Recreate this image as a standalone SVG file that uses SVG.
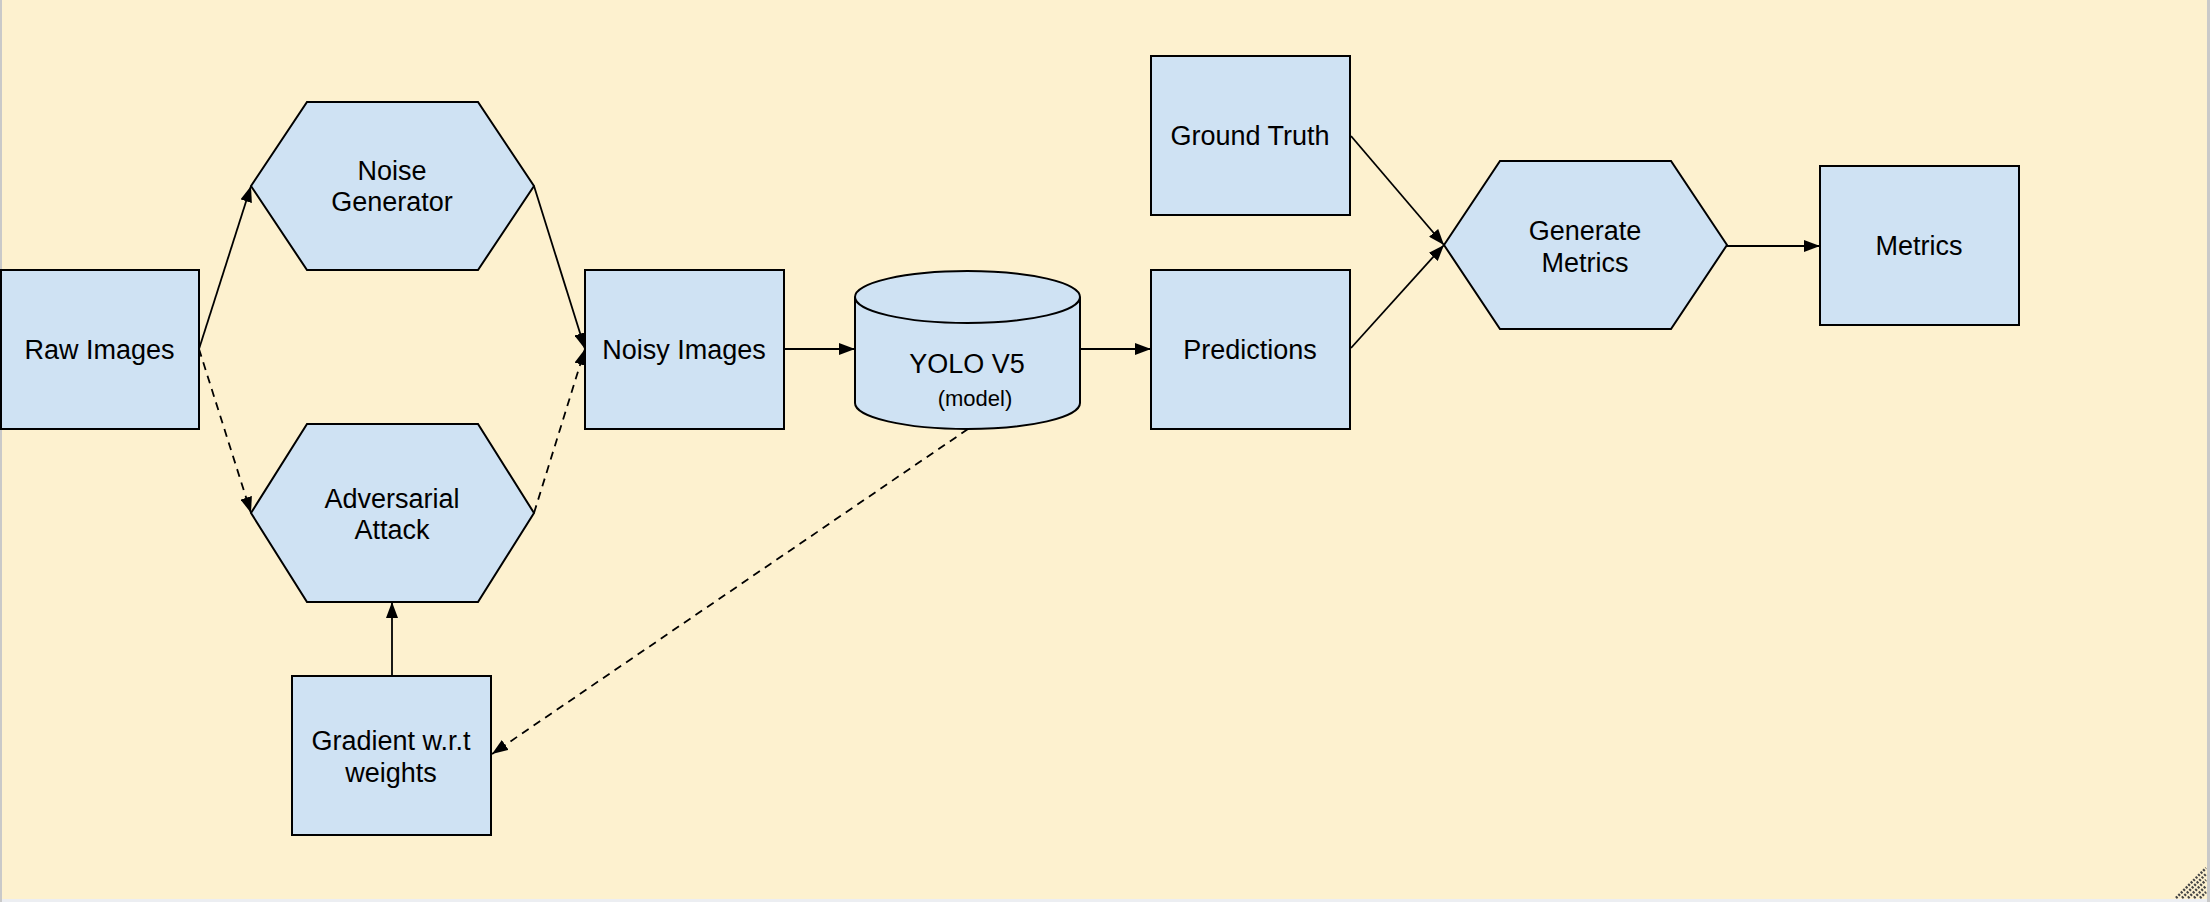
<svg xmlns="http://www.w3.org/2000/svg" width="2210" height="902" viewBox="0 0 2210 902">
<style>
.node{fill:#cfe2f3;stroke:#000;stroke-width:2}
.lbl{font-family:"Liberation Sans",Arial,sans-serif;font-size:27px;fill:#000;text-anchor:middle}
.small{font-size:22px}
.edge{fill:none;stroke:#000;stroke-width:1.8}
.dash{stroke-dasharray:8,6}
.grip{stroke:#444;stroke-width:2.5;stroke-dasharray:2,1.5}
</style>
<defs>
<marker id="arr" markerUnits="userSpaceOnUse" markerWidth="16" markerHeight="12" refX="16" refY="6" orient="auto">
<path d="M0,0 L16,6 L0,12 z" fill="#000"/>
</marker>
</defs>
<rect x="0" y="0" width="2210" height="902" fill="#fdf1cf"/>
<rect x="0" y="899" width="2210" height="3" fill="#eceef2"/>
<rect x="0" y="0" width="2" height="902" fill="#c9c9c9"/>
<rect x="2207" y="0" width="3" height="902" fill="#c9c9c9"/>
<g id="grip">
<line class="grip" x1="2176" y1="898" x2="2206" y2="868"/>
<line class="grip" x1="2182" y1="898" x2="2206" y2="874"/>
<line class="grip" x1="2188" y1="898" x2="2206" y2="880"/>
<line class="grip" x1="2194" y1="898" x2="2206" y2="886"/>
<line class="grip" x1="2200" y1="898" x2="2206" y2="892"/>
</g>
<g id="connectors">
<line class="edge" x1="199" y1="349" x2="251" y2="186" marker-end="url(#arr)"/>
<line class="edge dash" x1="199" y1="349" x2="251" y2="513" marker-end="url(#arr)"/>
<line class="edge" x1="534" y1="186" x2="585" y2="349" marker-end="url(#arr)"/>
<line class="edge dash" x1="534" y1="513" x2="585" y2="349" marker-end="url(#arr)"/>
<line class="edge" x1="392" y1="676" x2="392" y2="602" marker-end="url(#arr)"/>
<line class="edge" x1="784" y1="349" x2="855" y2="349" marker-end="url(#arr)"/>
<line class="edge" x1="1080" y1="349" x2="1151" y2="349" marker-end="url(#arr)"/>
<line class="edge dash" x1="968" y1="429" x2="492" y2="754" marker-end="url(#arr)"/>
<line class="edge" x1="1351" y1="136" x2="1444" y2="245" marker-end="url(#arr)"/>
<line class="edge" x1="1351" y1="348" x2="1444" y2="245" marker-end="url(#arr)"/>
<line class="edge" x1="1727" y1="246" x2="1820" y2="246" marker-end="url(#arr)"/>
</g>
<g id="raw-images">
<rect class="node" x="1" y="270" width="198" height="159"/>
<text class="lbl" x="99.5" y="359">Raw Images</text>
</g>
<g id="noise-generator">
<polygon class="node" points="251,186 307,102 478,102 534,186 478,270 307,270"/>
<text class="lbl" x="392" y="180">Noise</text>
<text class="lbl" x="392" y="211">Generator</text>
</g>
<g id="adversarial-attack">
<polygon class="node" points="251,513 307,424 478,424 534,513 478,602 307,602"/>
<text class="lbl" x="392" y="507.5">Adversarial</text>
<text class="lbl" x="392" y="539">Attack</text>
</g>
<g id="gradient">
<rect class="node" x="292" y="676" width="199" height="159"/>
<text class="lbl" x="391" y="750">Gradient w.r.t</text>
<text class="lbl" x="391" y="782">weights</text>
</g>
<g id="noisy-images">
<rect class="node" x="585" y="270" width="199" height="159"/>
<text class="lbl" x="684" y="359">Noisy Images</text>
</g>
<g id="yolo">
<path class="node" d="M855,297 L855,403 A112.5,26 0 0 0 1080,403 L1080,297 A112.5,26 0 0 0 855,297 Z"/>
<path class="node" d="M855,297 A112.5,26 0 0 0 1080,297" fill="none"/>
<text class="lbl" x="967" y="372.5">YOLO V5</text>
<text class="lbl small" x="975" y="406">(model)</text>
</g>
<g id="ground-truth">
<rect class="node" x="1151" y="56" width="199" height="159"/>
<text class="lbl" x="1250" y="145">Ground Truth</text>
</g>
<g id="predictions">
<rect class="node" x="1151" y="270" width="199" height="159"/>
<text class="lbl" x="1250" y="359">Predictions</text>
</g>
<g id="generate-metrics">
<polygon class="node" points="1444,245 1500,161 1671,161 1727,245 1671,329 1500,329"/>
<text class="lbl" x="1585" y="240">Generate</text>
<text class="lbl" x="1585" y="272">Metrics</text>
</g>
<g id="metrics">
<rect class="node" x="1820" y="166" width="199" height="159"/>
<text class="lbl" x="1919" y="255">Metrics</text>
</g>
</svg>
